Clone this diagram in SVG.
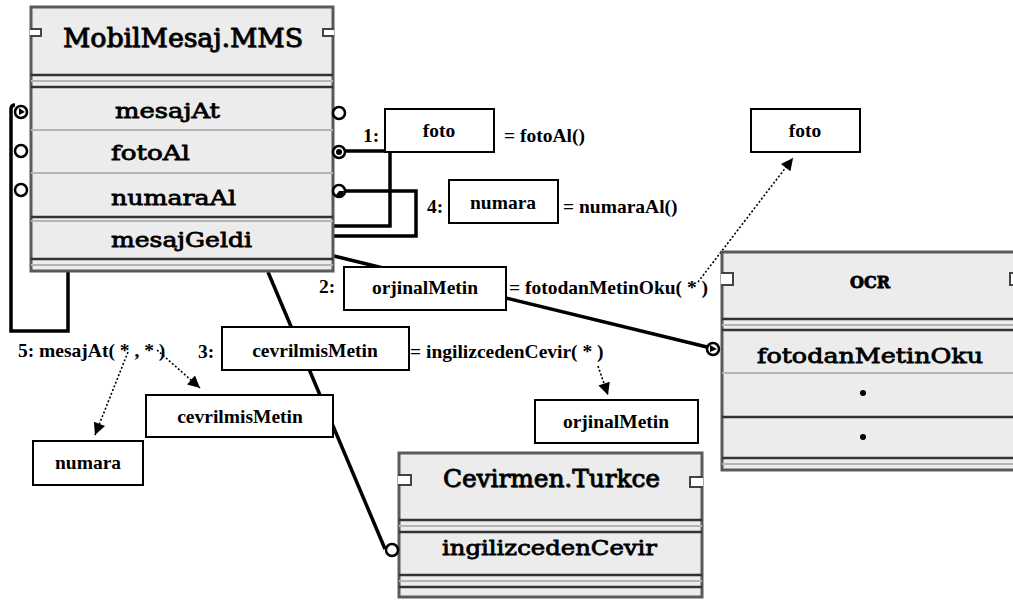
<svg xmlns="http://www.w3.org/2000/svg" width="1013" height="602" viewBox="0 0 1013 602">
  <style>
    .comp { fill: #ececec; stroke: #5a5a5a; stroke-width: 3; }
    .dark { stroke: #333; stroke-width: 2.5; }
    .light { stroke: #b4b4b4; stroke-width: 2; }
    .notch { fill: #fff; stroke: #444; stroke-width: 2; }
    .ctitle { font-family: "DejaVu Serif", serif; fill: #000; stroke: #000; stroke-width: 0.8; }
    .cshadow { font-family: "DejaVu Serif", serif; fill: #9a9a9a; }
    .port { fill: #fff; stroke: #000; stroke-width: 2.5; }
    .wire { fill: none; stroke: #000; stroke-width: 3.5; }
    .dot { fill: none; stroke: #000; stroke-width: 1.6; stroke-dasharray: 2 2; }
    .lbox { fill: #fff; stroke: #000; stroke-width: 2; }
    .lbl { font-family: "Liberation Serif", "Times New Roman", serif; font-weight: bold; font-size: 19.5px; fill: #000; }
    .mid { text-anchor: middle; }
  </style>
  <defs>
    <marker id="tip" viewBox="0 0 10 10" refX="10" refY="5" markerUnits="userSpaceOnUse" markerWidth="14" markerHeight="12" orient="auto">
      <path d="M0,0 L10,5 L0,10 Z" fill="#000"/>
    </marker>
  </defs>

  <!-- connectors -->
  <g id="connectors">
    <path class="wire" d="M68 272 V331 H11 V109 Q11 105 15 105"/>
    <path class="wire" d="M345 151 H390 V226 H334"/>
    <path class="wire" d="M345 191 H416 V236 H334"/>
    <path class="wire" d="M334 256 L707 347"/>
    <path class="wire" d="M268 272 L385 549"/>
    <path class="dot" d="M128 352 L95 435" marker-end="url(#tip)"/>
    <path class="dot" d="M157 350 L200 388" marker-end="url(#tip)"/>
    <path class="dot" d="M598 366 L608 395" marker-end="url(#tip)"/>
    <path class="dot" d="M698 282 L793 158" marker-end="url(#tip)"/>
  </g>

  <!-- component MobilMesaj.MMS -->
  <g id="mms">
    <rect class="comp" x="31" y="7" width="302" height="264"/>
    <line class="dark" x1="31" y1="75" x2="333" y2="75"/>
    <line class="light" x1="31" y1="81" x2="333" y2="81"/>
    <line class="dark" x1="31" y1="87" x2="333" y2="87"/>
    <line class="light" x1="31" y1="130" x2="333" y2="130"/>
    <line class="light" x1="31" y1="173" x2="333" y2="173"/>
    <line class="dark" x1="31" y1="217" x2="333" y2="217"/>
    <line class="light" x1="31" y1="221" x2="333" y2="221"/>
    <line class="dark" x1="31" y1="259" x2="333" y2="259"/>
    <line class="light" x1="31" y1="265" x2="333" y2="265"/>
    <path class="notch" d="M30 29 H41 V36 H30"/>
    <path class="notch" d="M334 29 H323 V36 H334"/>
    <text class="cshadow" x="64" y="48" font-size="26" textLength="240" lengthAdjust="spacingAndGlyphs">MobilMesaj.MMS</text>
    <text class="ctitle" x="63" y="47" font-size="26" textLength="240" lengthAdjust="spacingAndGlyphs">MobilMesaj.MMS</text>
    <text class="ctitle" x="115" y="118" font-size="21" textLength="105" lengthAdjust="spacingAndGlyphs">mesajAt</text>
    <text class="ctitle" x="111" y="160" font-size="21" textLength="79" lengthAdjust="spacingAndGlyphs">fotoAl</text>
    <text class="ctitle" x="111" y="205" font-size="21" textLength="125" lengthAdjust="spacingAndGlyphs">numaraAl</text>
    <text class="ctitle" x="111" y="247" font-size="21" textLength="141" lengthAdjust="spacingAndGlyphs">mesajGeldi</text>
    <!-- left ports -->
    <circle class="port" cx="21" cy="112" r="6"/>
    <path d="M19 108 L25 112 L19 115 Z" fill="#000"/>
    <circle class="port" cx="21" cy="151" r="6"/>
    <circle class="port" cx="21" cy="190" r="6"/>
    <!-- right ports -->
    <circle class="port" cx="339" cy="113" r="6"/>
    <circle class="port" cx="339" cy="152" r="6"/>
    <circle cx="339" cy="152" r="3" fill="#000"/>
    <circle class="port" cx="339" cy="191" r="6"/>
    <path d="M339 191 L344 191 A5 5 0 0 1 336 195 Z" fill="#000"/>
  </g>

  <!-- component OCR -->
  <g id="ocr">
    <rect class="comp" x="722" y="252" width="296" height="218"/>
    <line class="dark" x1="722" y1="319" x2="1018" y2="319"/>
    <line class="light" x1="722" y1="325" x2="1018" y2="325"/>
    <line class="dark" x1="722" y1="330" x2="1018" y2="330"/>
    <line class="light" x1="722" y1="373" x2="1018" y2="373"/>
    <line class="dark" x1="722" y1="417" x2="1018" y2="417"/>
    <line class="dark" x1="722" y1="458" x2="1018" y2="458"/>
    <line class="light" x1="722" y1="464" x2="1018" y2="464"/>
    <path class="notch" d="M721 273 H733 V285 H721"/>
    <path class="notch" d="M1018 273 H1010 V285 H1018"/>
    <text class="ctitle" x="850" y="288" font-size="17" font-weight="bold" textLength="40" lengthAdjust="spacingAndGlyphs">OCR</text>
    <text class="ctitle" x="757" y="363" font-size="21" textLength="226" lengthAdjust="spacingAndGlyphs">fotodanMetinOku</text>
    <circle cx="863" cy="393" r="3" fill="#000"/>
    <circle cx="863" cy="437" r="3" fill="#000"/>
    <circle class="port" cx="713" cy="349" r="6"/>
    <path d="M710 345 L717 349 L710 352 Z" fill="#000"/>
  </g>

  <!-- component Cevirmen.Turkce -->
  <g id="cevirmen">
    <rect class="comp" x="399" y="453" width="303" height="144"/>
    <line class="dark" x1="399" y1="520" x2="702" y2="520"/>
    <line class="light" x1="399" y1="526" x2="702" y2="526"/>
    <line class="dark" x1="399" y1="532" x2="702" y2="532"/>
    <line class="dark" x1="399" y1="575" x2="702" y2="575"/>
    <line class="light" x1="399" y1="581" x2="702" y2="581"/>
    <line class="dark" x1="399" y1="587" x2="702" y2="587"/>
    <path class="notch" d="M398 475 H411 V485 H398"/>
    <path class="notch" d="M703 477 H690 V487 H703"/>
    <text class="cshadow" x="444" y="488" font-size="25" textLength="217" lengthAdjust="spacingAndGlyphs">Cevirmen.Turkce</text>
    <text class="ctitle" x="443" y="487" font-size="25" textLength="217" lengthAdjust="spacingAndGlyphs">Cevirmen.Turkce</text>
    <text class="ctitle" x="442" y="555" font-size="21" textLength="215" lengthAdjust="spacingAndGlyphs">ingilizcedenCevir</text>
    <circle class="port" cx="392" cy="550" r="6"/>
  </g>

  <!-- message 1 -->
  <g id="msg1">
    <text class="lbl" x="363" y="142">1:</text>
    <rect class="lbox" x="385" y="109" width="109" height="43"/>
    <text class="lbl mid" x="439" y="137">foto</text>
    <text class="lbl" x="504" y="142">= fotoAl()</text>
  </g>

  <!-- message 4 -->
  <g id="msg4">
    <text class="lbl" x="427" y="213">4:</text>
    <rect class="lbox" x="449" y="180" width="109" height="43"/>
    <text class="lbl mid" x="503" y="209">numara</text>
    <text class="lbl" x="563" y="213">= numaraAl()</text>
  </g>

  <!-- message 2 -->
  <g id="msg2">
    <text class="lbl" x="319" y="293">2:</text>
    <rect class="lbox" x="344" y="267" width="162" height="43"/>
    <text class="lbl mid" x="425" y="294">orjinalMetin</text>
    <text class="lbl" x="509" y="294">= fotodanMetinOku( * )</text>
  </g>

  <!-- message 3 -->
  <g id="msg3">
    <text class="lbl" x="198" y="358">3:</text>
    <rect class="lbox" x="222" y="327" width="187" height="43"/>
    <text class="lbl mid" x="315" y="357">cevrilmisMetin</text>
    <text class="lbl" x="410" y="358">= ingilizcedenCevir( * )</text>
  </g>

  <!-- message 5 -->
  <g id="msg5">
    <text class="lbl" x="18" y="357">5: mesajAt( * , * )</text>
  </g>

  <!-- argument objects -->
  <g id="arg-foto">
    <rect class="lbox" x="751" y="109" width="109" height="43"/>
    <text class="lbl mid" x="805" y="137">foto</text>
  </g>
  <g id="arg-cevrilmisMetin">
    <rect class="lbox" x="146" y="395" width="187" height="42"/>
    <text class="lbl mid" x="240" y="423">cevrilmisMetin</text>
  </g>
  <g id="arg-numara">
    <rect class="lbox" x="33" y="441" width="110" height="44"/>
    <text class="lbl mid" x="88" y="469">numara</text>
  </g>
  <g id="arg-orjinalMetin">
    <rect class="lbox" x="535" y="400" width="163" height="43"/>
    <text class="lbl mid" x="616" y="428">orjinalMetin</text>
  </g>
</svg>
